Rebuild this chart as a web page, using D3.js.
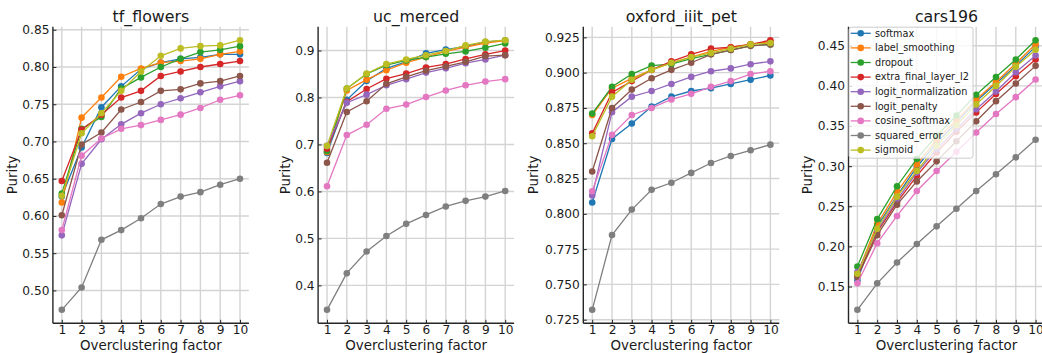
<!DOCTYPE html>
<html>
<head>
<meta charset="utf-8">
<script src="https://cdn.jsdelivr.net/npm/d3@7"></script>
<style>
    body { margin: 0; background: #fff; }
    svg { display: block; font-family: "DejaVu Sans", sans-serif; }
</style>
</head>
<body>
<svg id="chart" width="1042" height="353"></svg>
<script>
const methods = [
    "softmax", "label_smoothing", "dropout", "extra_final_layer_l2", "logit_normalization",
    "logit_penalty", "cosine_softmax", "squared_error", "sigmoid"
];
const factors = [1, 2, 3, 4, 5, 6, 7, 8, 9, 10];
const datasets = ["tf_flowers", "uc_merced", "oxford_iiit_pet", "cars196"];

// rows follow the order of `methods`
const tfFlowers = [
    [0.626, 0.692, 0.746, 0.774, 0.797, 0.806, 0.811, 0.813, 0.817, 0.817],
    [0.618, 0.732, 0.759, 0.787, 0.798, 0.806, 0.808, 0.811, 0.817, 0.821],
    [0.630, 0.717, 0.733, 0.771, 0.786, 0.800, 0.811, 0.820, 0.823, 0.828],
    [0.647, 0.716, 0.736, 0.759, 0.768, 0.788, 0.794, 0.800, 0.804, 0.808],
    [0.574, 0.670, 0.703, 0.723, 0.738, 0.750, 0.758, 0.766, 0.774, 0.781],
    [0.601, 0.696, 0.712, 0.743, 0.753, 0.768, 0.770, 0.778, 0.781, 0.788],
    [0.581, 0.681, 0.704, 0.717, 0.722, 0.729, 0.736, 0.745, 0.756, 0.762],
    [0.474, 0.504, 0.568, 0.581, 0.597, 0.616, 0.626, 0.632, 0.642, 0.650],
    [0.627, 0.711, 0.738, 0.768, 0.794, 0.815, 0.825, 0.828, 0.829, 0.836]
];
const ucMerced = [
    [0.682, 0.795, 0.835, 0.862, 0.876, 0.894, 0.902, 0.909, 0.918, 0.922],
    [0.684, 0.815, 0.838, 0.858, 0.874, 0.886, 0.898, 0.907, 0.916, 0.921],
    [0.686, 0.819, 0.850, 0.869, 0.879, 0.886, 0.893, 0.898, 0.906, 0.915],
    [0.691, 0.791, 0.818, 0.840, 0.851, 0.864, 0.871, 0.882, 0.892, 0.900],
    [0.697, 0.789, 0.806, 0.826, 0.839, 0.853, 0.862, 0.873, 0.881, 0.890],
    [0.661, 0.769, 0.792, 0.829, 0.844, 0.857, 0.866, 0.876, 0.888, 0.890],
    [0.611, 0.720, 0.742, 0.776, 0.785, 0.801, 0.815, 0.826, 0.834, 0.839],
    [0.348, 0.426, 0.472, 0.505, 0.531, 0.550, 0.568, 0.580, 0.589, 0.601],
    [0.697, 0.819, 0.851, 0.871, 0.881, 0.890, 0.899, 0.911, 0.919, 0.922]
];
const oxfordPet = [
    [0.808, 0.853, 0.864, 0.876, 0.883, 0.887, 0.889, 0.892, 0.895, 0.898],
    [0.870, 0.889, 0.896, 0.902, 0.907, 0.911, 0.915, 0.918, 0.920, 0.922],
    [0.871, 0.890, 0.899, 0.905, 0.906, 0.910, 0.913, 0.916, 0.919, 0.920],
    [0.857, 0.886, 0.894, 0.902, 0.908, 0.913, 0.917, 0.918, 0.920, 0.923],
    [0.813, 0.872, 0.883, 0.887, 0.892, 0.897, 0.901, 0.903, 0.906, 0.908],
    [0.830, 0.875, 0.888, 0.896, 0.902, 0.907, 0.913, 0.916, 0.919, 0.920],
    [0.816, 0.856, 0.870, 0.875, 0.881, 0.885, 0.890, 0.894, 0.899, 0.901],
    [0.732, 0.785, 0.803, 0.817, 0.822, 0.829, 0.836, 0.841, 0.845, 0.849],
    [0.855, 0.883, 0.895, 0.902, 0.907, 0.911, 0.914, 0.917, 0.920, 0.921]
];
const cars196 = [
    [0.158, 0.225, 0.263, 0.299, 0.329, 0.354, 0.381, 0.403, 0.425, 0.449],
    [0.166, 0.228, 0.268, 0.302, 0.333, 0.357, 0.383, 0.405, 0.428, 0.452],
    [0.175, 0.234, 0.275, 0.309, 0.338, 0.363, 0.389, 0.411, 0.433, 0.457],
    [0.163, 0.218, 0.255, 0.288, 0.317, 0.343, 0.367, 0.390, 0.412, 0.433],
    [0.168, 0.220, 0.258, 0.292, 0.321, 0.346, 0.371, 0.393, 0.417, 0.438],
    [0.162, 0.214, 0.252, 0.281, 0.306, 0.331, 0.356, 0.381, 0.403, 0.425],
    [0.154, 0.204, 0.238, 0.269, 0.294, 0.318, 0.342, 0.365, 0.386, 0.408],
    [0.121, 0.154, 0.180, 0.203, 0.225, 0.247, 0.269, 0.290, 0.311, 0.333],
    [0.166, 0.222, 0.262, 0.294, 0.325, 0.351, 0.377, 0.400, 0.424, 0.445]
];
const panelData = [tfFlowers, ucMerced, oxfordPet, cars196];

const yTicks = [
    [0.50, 0.55, 0.60, 0.65, 0.70, 0.75, 0.80, 0.85],
    [0.4, 0.5, 0.6, 0.7, 0.8, 0.9],
    [0.725, 0.750, 0.775, 0.800, 0.825, 0.850, 0.875, 0.900, 0.925],
    [0.15, 0.20, 0.25, 0.30, 0.35, 0.40, 0.45]
];
const yFormats = [".2f", ".1f", ".3f", ".2f"];

const COLORS = ["#1f77b4", "#ff7f0e", "#2ca02c", "#d62728", "#9467bd",
                "#8c564b", "#e377c2", "#7f7f7f", "#bcbd22"];

const PANEL_LEFT = 52.9;
const PANEL_STEP = 265.2;
const PANEL_W = 196;
const TOP = 26.7;
const BOTTOM = 323.3;
const GRID = "#d4d4d4";
const SPINE = "#262626";

const svg = d3.select("#chart");

// matplotlib-like autoscale: 5% margin each side
const padded = (lo, hi) => {
    const m = (hi - lo) * 0.05;
    return [lo - m, hi + m];
};

panelData.forEach((rows, p) => {
    const left = PANEL_LEFT + p * PANEL_STEP;
    const g = svg.append("g").attr("transform", `translate(${left},0)`);

    const x = d3.scaleLinear().domain(padded(1, 10)).range([0, PANEL_W]);
    const all = rows.flat();
    const y = d3.scaleLinear().domain(padded(d3.min(all), d3.max(all))).range([BOTTOM, TOP]);

    // grid
    g.append("g")
        .selectAll("line.vg")
        .data(factors)
        .join("line")
        .attr("x1", (d) => x(d)).attr("x2", (d) => x(d))
        .attr("y1", TOP).attr("y2", BOTTOM)
        .attr("stroke", GRID).attr("stroke-width", 1.4);
    g.append("g")
        .selectAll("line.hg")
        .data(yTicks[p])
        .join("line")
        .attr("x1", 0).attr("x2", PANEL_W)
        .attr("y1", (d) => y(d)).attr("y2", (d) => y(d))
        .attr("stroke", GRID).attr("stroke-width", 1.4);

    // series
    const line = d3.line().x((d, i) => x(factors[i])).y((d) => y(d));
    rows.forEach((vals, m) => {
        const s = g.append("g");
        s.append("path")
            .attr("d", line(vals))
            .attr("fill", "none")
            .attr("stroke", COLORS[m])
            .attr("stroke-width", 1.3);
        s.selectAll("circle")
            .data(vals)
            .join("circle")
            .attr("cx", (d, i) => x(factors[i]))
            .attr("cy", (d) => y(d))
            .attr("r", 3.3)
            .attr("fill", COLORS[m]);
    });

    // axes, ticks pointing inward
    const yAxis = d3.axisLeft(y).tickValues(yTicks[p]).tickFormat(d3.format(yFormats[p]))
        .tickSizeInner(-3.5).tickSizeOuter(0).tickPadding(3.5);
    const xAxis = d3.axisBottom(x).tickValues(factors).tickFormat(d3.format("d"))
        .tickSizeInner(-3.5).tickSizeOuter(0).tickPadding(2.5);

    const ya = g.append("g").call(yAxis);
    const xa = g.append("g").attr("transform", `translate(0,${BOTTOM})`).call(xAxis);
    [ya, xa].forEach((a) => {
        a.select(".domain").attr("stroke", SPINE).attr("stroke-width", 1.4);
        a.selectAll(".tick line").attr("stroke", SPINE).attr("stroke-width", 1);
        a.selectAll(".tick text").attr("fill", "#1a1a1a").style("font-size", "12.2px")
            .style("font-family", "'DejaVu Sans', sans-serif");
    });
    ya.select(".domain").attr("d", `M0,${TOP}V${BOTTOM}`);
    xa.select(".domain").attr("d", `M0,0H${PANEL_W}`);

    // labels
    g.append("text")
        .attr("x", PANEL_W / 2).attr("y", 21.5)
        .attr("text-anchor", "middle")
        .style("font-size", "15.8px").attr("fill", "#1a1a1a")
        .text(datasets[p]);
    g.append("text")
        .attr("x", PANEL_W / 2).attr("y", 349.5)
        .attr("text-anchor", "middle")
        .style("font-size", "13.4px").attr("fill", "#1a1a1a")
        .text("Overclustering factor");
    const ylx = [11.7, 285, 533.3, 806.7][p] - left;
    g.append("text")
        .attr("transform", `translate(${ylx + 4.8},${(TOP + BOTTOM) / 2}) rotate(-90)`)
        .attr("text-anchor", "middle")
        .style("font-size", "13.4px").attr("fill", "#1a1a1a")
        .text("Purity");

    if (p === 3) addLegend(g);
});

function addLegend(g) {
    const lg = g.append("g").attr("transform", "translate(0.5,0)");
    const rowH = 14.6;
    lg.append("rect")
        .attr("x", 0).attr("y", TOP + 0.5)
        .attr("width", 124).attr("height", 131)
        .attr("rx", 2.5)
        .attr("fill", "white").attr("fill-opacity", 0.8)
        .attr("stroke", "#cccccc").attr("stroke-width", 1);
    methods.forEach((name, i) => {
        const cy = 33.3 + i * rowH;
        lg.append("line")
            .attr("x1", 1.7).attr("x2", 21.7)
            .attr("y1", cy).attr("y2", cy)
            .attr("stroke", COLORS[i]).attr("stroke-width", 1.3);
        lg.append("circle")
            .attr("cx", 11.7).attr("cy", cy).attr("r", 3.3)
            .attr("fill", COLORS[i]);
        lg.append("text")
            .attr("x", 26).attr("y", cy).attr("dy", "0.35em")
            .style("font-size", "9.7px").attr("fill", "#1a1a1a")
            .text(name);
    });
}
</script>
</body>
</html>
